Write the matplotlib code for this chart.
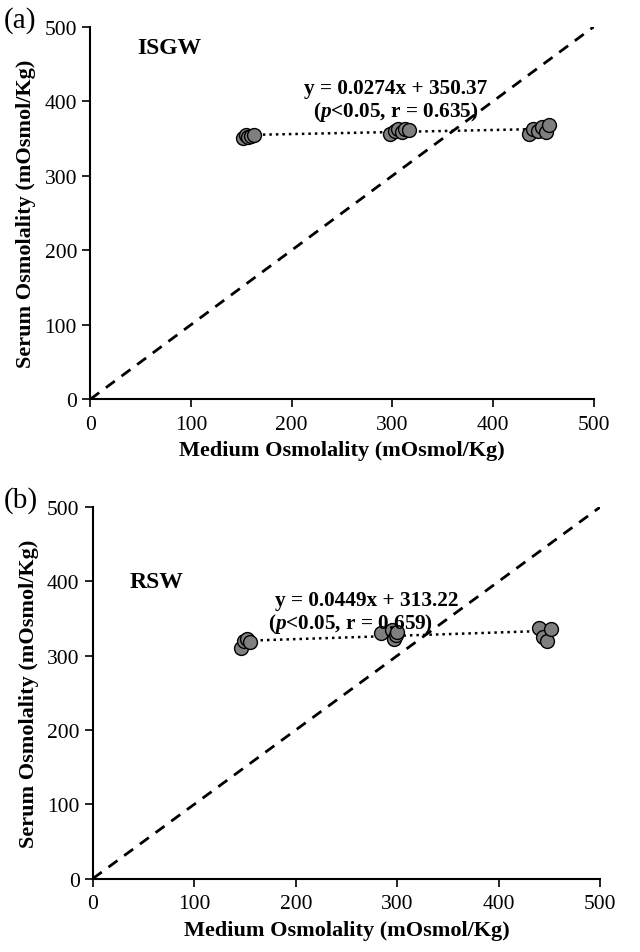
import matplotlib
matplotlib.use("Agg")
import numpy as np
import matplotlib.pyplot as plt

plt.rcParams["font.family"] = ["Liberation Serif", "DejaVu Serif"]
plt.rcParams["mathtext.fontset"] = "custom"
plt.rcParams["mathtext.it"] = "Liberation Serif:italic:bold"
plt.rcParams["mathtext.rm"] = "Liberation Serif:bold"

# panel (a) ISGW
isgw_x = [152, 155, 157, 160, 163, 298, 303, 306, 309, 312, 316, 436, 440, 444, 448, 452, 455]
isgw_y = [350, 354, 352, 353, 354, 356, 360, 363, 358, 362, 361, 356, 362, 360, 365, 358, 368]
isgw_fit = (0.0274, 350.37)
isgw_r = "0.635"

# panel (b) RSW
rsw_x = [146, 149, 152, 155, 284, 295, 297, 299, 300, 440, 444, 447, 451]
rsw_y = [310, 320, 322, 318, 330, 334, 322, 328, 332, 337, 325, 320, 336]
rsw_fit = (0.0449, 313.22)
rsw_r = "0.659"

ticks = [0, 100, 200, 300, 400, 500]

fig = plt.figure(figsize=(6.4, 9.53), dpi=100)
ax_a = fig.add_axes([0.141, 0.580, 0.787, 0.391])
ax_b = fig.add_axes([0.145, 0.077, 0.793, 0.390])


def draw(ax, xs, ys, fit, r, name, name_xy, eq_xy, eq2_xy):
    ax.plot([0, 500], [0, 500], color="black", ls=(0, (4, 3)), lw=2.0, zorder=1)
    m, c = fit
    xl = np.array([min(xs), max(xs)])
    ax.plot(xl, m * xl + c, color="black", ls=(0, (1, 1.6)), lw=1.8, zorder=2)
    ax.scatter(xs, ys, s=100, facecolor="#7f7f7f", edgecolor="black",
               linewidth=1.0, zorder=3)
    ax.set_xlim(0, 500)
    ax.set_ylim(0, 500)
    ax.set_xticks(ticks)
    ax.set_yticks(ticks)
    ax.tick_params(labelsize=15.5, direction="out", length=6, width=1.2)
    ax.tick_params(axis="x", pad=5)
    for s in ["top", "right"]:
        ax.spines[s].set_visible(False)
    for s in ["left", "bottom"]:
        ax.spines[s].set_linewidth(1.5)
    ax.set_xlabel("Medium Osmolality (mOsmol/Kg)", fontsize=16, fontweight="bold", labelpad=5)
    ax.set_ylabel("Serum Osmolality (mOsmol/Kg)", fontsize=16, fontweight="bold", labelpad=6)
    ax.text(name_xy[0], name_xy[1], name, fontsize=17, fontweight="bold", ha="left", va="center")
    ax.text(eq_xy[0], eq_xy[1], f"y = {m}x + {c}", fontsize=15.3, fontweight="bold",
            ha="center", va="center")
    ax.text(eq2_xy[0], eq2_xy[1], r"($\it{p}$<0.05, r = " + r + ")", fontsize=15.3,
            fontweight="bold", ha="center", va="center")


draw(ax_a, isgw_x, isgw_y, isgw_fit, isgw_r, "ISGW", (47, 472), (303, 418), (303, 387))
draw(ax_b, rsw_x, rsw_y, rsw_fit, rsw_r, "RSW", (36, 400), (270, 375), (254, 344))

fig.text(0.006, 0.978, "(a)", fontsize=21, va="center", ha="left")
fig.text(0.006, 0.475, "(b)", fontsize=21, va="center", ha="left")

fig.savefig("out.png", dpi=100)
